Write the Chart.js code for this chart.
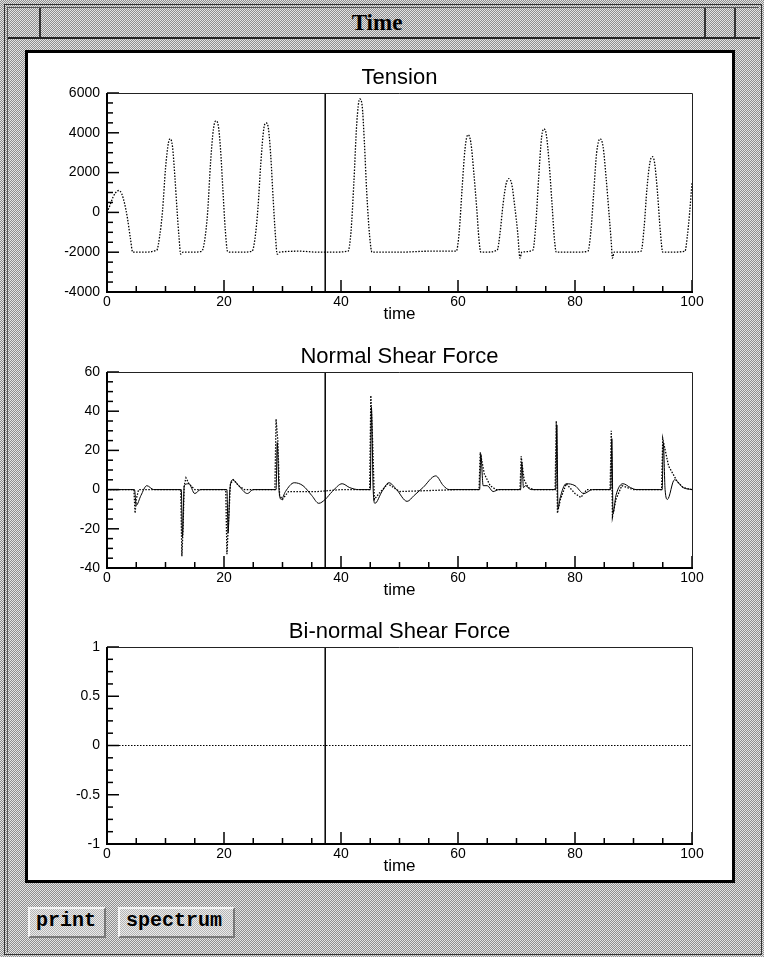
<!DOCTYPE html>
<html>
<head>
<meta charset="utf-8">
<title>Time</title>
<script src="https://cdn.jsdelivr.net/npm/chart.js@4.4.1/dist/chart.umd.min.js"></script>
<style>
  html, body { margin: 0; padding: 0; }
  body {
    width: 764px; height: 957px; position: relative; overflow: hidden;
    background: repeating-conic-gradient(#8e8e8e 0 25%, #e4e4e4 0 50%) 0 0 / 2px 2px;
    font-family: "Liberation Sans", Arial, sans-serif;
  }
  .abs { position: absolute; }
  #frame { left: 4px; top: 4px; right: 2px; bottom: 2px; border: 1px solid #333; }
  #frame2 { left: 7px; top: 7px; right: 5px; bottom: 5px; border-left: 1px solid #555; border-top: 1px solid #555; }
  #titlebar { left: 8px; top: 8px; right: 4px; height: 29px; border-bottom: 2px solid #222; }
  .sep { top: 0; width: 2px; height: 29px; background: #333; }
  #wintitle {
    left: 0; right: 0; top: 2px; height: 29px; line-height: 30px; text-align: center;
    font: bold 23px "Liberation Serif", "DejaVu Serif", serif; color: #000; padding-right: 14px;
  }
  #panel { left: 25px; top: 50px; width: 710px; height: 833px; box-sizing: border-box; border: 3px solid #000; background: #fff; }
  canvas { position: absolute; }
  .btn {
    top: 907px; height: 31px; box-sizing: border-box; line-height: 29px; padding: 0 6px;
    border-top: 2px solid #f4f4f4; border-left: 2px solid #f4f4f4; border-right: 2px solid #777; border-bottom: 2px solid #777;
    font: bold 20px "Liberation Mono", "DejaVu Sans Mono", monospace; color: #000;
    background: repeating-conic-gradient(#b4b4b4 0 25%, #ececec 0 50%) 0 0 / 2px 2px;
  }
</style>
</head>
<body>
<div id="frame" class="abs"></div>
<div id="frame2" class="abs"></div>
<div id="titlebar" class="abs">
  <div class="abs sep" style="left:31px"></div>
  <div class="abs sep" style="left:696px"></div>
  <div class="abs sep" style="left:726px"></div>
  <div id="wintitle" class="abs">Time</div>
</div>
<div id="panel" class="abs"></div>

<canvas id="tensionChart" width="704" height="266" style="left:28px;top:60px"></canvas>
<canvas id="normalChart" width="704" height="262" style="left:28px;top:340px"></canvas>
<canvas id="binormalChart" width="704" height="263" style="left:28px;top:615px"></canvas>

<div class="abs btn" style="left:28px;width:78px">print</div>
<div class="abs btn" style="left:118px;width:117px">spectrum</div>

<script>
// cursor position (time) shown as the vertical line in every panel
const CURSOR_T = 37.3;

// time axis
const X_MIN = 0, X_MAX = 100, X_STEP = 20, X_MINOR = 5;

// Tension
const tensionTime = [
  0, 0.5, 1, 1.5, 2, 2.5, 3, 3.5, 4, 4.4,
  6, 8.5, 9, 9.5, 10, 10.5, 10.8, 11.2, 11.6, 12, 12.3, 12.6, 13,
  14.5, 16.2, 16.7, 17.2, 17.7, 18.2, 18.6, 19, 19.4, 19.8, 20.2, 20.6, 21,
  23, 24.8, 25.3, 25.8, 26.3, 26.8, 27.2, 27.6, 28, 28.4, 28.8, 29.1, 29.5,
  33, 36, 38, 41.2, 41.7, 42.2, 42.7, 43.2, 43.6, 44, 44.4, 44.9, 45.3, 46,
  50, 55, 59.7, 60.2, 60.7, 61.2, 61.7, 62.2, 62.7, 63.2, 63.6, 63.9, 64.5,
  66.7, 67.2, 67.7, 68.2, 68.7, 69.2, 69.7, 70.2, 70.6, 70.9,
  72.8, 73.3, 73.8, 74.3, 74.7, 75.1, 75.6, 76.1, 76.5, 76.8, 77.5,
  80, 82.2, 82.7, 83.2, 83.7, 84.3, 84.8, 85.3, 85.8, 86.2, 86.4, 86.7,
  89, 91.3, 91.8, 92.3, 92.8, 93.2, 93.6, 94.1, 94.6, 95, 96,
  98.8, 99.2, 99.6, 100
];
const tensionValue = [
  0, 350, 750, 1000, 1100, 950, 450, -300, -1300, -2000,
  -2000, -1900, -1200, 100, 2200, 3500, 3700, 3300, 1800, 0, -1200, -2100, -2000,
  -2000, -1950, -1400, 0, 2500, 4200, 4600, 4400, 3200, 1200, -800, -1950, -2000,
  -2000, -1950, -1300, 200, 2500, 4200, 4500, 4200, 2800, 700, -1200, -2100, -2000,
  -1950, -2000, -2000, -1950, -1000, 1500, 4500, 5700, 5400, 3500, 1000, -1200, -2000, -2000,
  -2000, -1950, -1950, -1000, 1200, 3200, 3900, 3500, 2000, 200, -1400, -2000, -2000,
  -1900, -1000, 400, 1400, 1700, 1400, 300, -1000, -2300, -2000,
  -1900, -600, 1800, 3800, 4200, 3900, 2400, 300, -1400, -2000, -2000,
  -2000, -1950, -1000, 1000, 3000, 3700, 3300, 1800, 0, -1500, -2300, -2000,
  -2000, -1950, -800, 1200, 2500, 2800, 2500, 1000, -1000, -2000, -2000,
  -1950, -1200, 0, 1500
];
const tensionRange = [-4000, 6000], tensionStep = 2000, tensionMinor = 500;

// Normal shear force: dotted component
const shearSpikeTime = [
  0, 4.6, 4.8, 5.0, 5.4, 12.6, 12.8, 13.0, 13.2, 13.5, 14, 15,
  20.3, 20.5, 20.8, 21.1, 21.6, 22.5, 23.5, 28.7, 28.9, 29.2, 29.5, 30, 31, 36, 40,
  44.9, 45.1, 45.4, 45.7, 46.5, 48, 50, 60, 63.6, 63.8, 64.5, 65.5, 66.5,
  70.6, 70.8, 71.3, 72, 73, 76.6, 76.8, 77.0, 77.5, 78.5, 80, 81, 82,
  86, 86.2, 86.4, 87, 88, 90, 94.8, 95, 96, 97.5, 98.5, 100
];
const shearSpikeValue = [
  0, 0, -12, -5, 0, 0, -34, -20, 2, 6, 3, 0,
  0, -33, -15, 3, 5, 2, 0, 0, 36, 25, -3, -5, -1, -1, 0,
  0, 48, 25, -5, -2, 3, -1, 0, 0, 19, 8, 2, 0,
  0, 17, 5, 1, 0, 0, 35, -12, -5, 3, -2, -4, 0,
  0, 30, -14, -5, 2, 0, 0, 26, 12, 4, 1, 0
];
// Normal shear force: solid component
const shearWaveTime = [
  0, 4.7, 5, 5.8, 6.8, 8,
  12.7, 12.9, 13.2, 14, 15, 16,
  20.5, 20.7, 21, 21.5, 22.5, 24, 25,
  28.9, 29.1, 29.4, 29.8, 30.5, 32, 33.5, 35, 36.2, 37.3, 38.5, 40.2, 41.5, 43,
  45, 45.2, 45.5, 45.8, 47, 48.2, 49.5, 51.3, 52.5, 54, 56.2, 57.5, 58.5,
  63.7, 63.9, 64.3, 65, 66, 67,
  70.7, 70.9, 71.2, 71.5, 72.5,
  76.7, 76.9, 77.1, 77.4, 78.5, 80, 81.5, 83,
  86.1, 86.3, 86.5, 87, 88.2, 89.5, 90.5,
  94.9, 95.1, 95.4, 95.8, 97, 98.5, 100
];
const shearWaveValue = [
  0, 0, -8, -3, 2, 0,
  0, -24, 2, 3, -2, 0,
  0, -22, 0, 5, 2, -2, 0,
  0, 24, 0, -5, -1, 3.5, 2, -3, -7, -5, -1, 3, 1, 0,
  0, 42, 0, -7, -1, 3.5, 0, -6, -3, 1, 7, 2, 0,
  0, 18, 2, 2, -1, 0,
  0, 14, 1, 2, 0,
  0, 33, -10, -5, 3, 2, -2, 0,
  0, 26, -12, -3, 3, 1, 0,
  0, 24, 0, -5, 5, 1, 0
];
const shearRange = [-40, 60], shearStep = 20, shearMinor = 5;

// Bi-normal shear force: flat at zero
const binormalTime = [0, 100];
const binormalValue = [0, 0];
const binormalRange = [-1, 1], binormalStep = 0.5, binormalMinor = 0.125;

const FONT = '"Liberation Sans", Arial, Helvetica, sans-serif';
Chart.defaults.font.family = FONT;
Chart.defaults.font.size = 14;
Chart.defaults.color = '#000';

function zip(ts, vs) {
  return ts.map((t, i) => ({ x: t, y: vs[i] }));
}

// ticks drawn inward from the left and bottom axes, plus the frame
const insideTicks = {
  id: 'insideTicks',
  afterDatasetsDraw(chart, args, opts) {
    const { ctx, chartArea: a, scales: { x, y } } = chart;
    const isMajor = (v, step) => Math.abs(v / step - Math.round(v / step)) < 1e-6;
    ctx.save();
    ctx.strokeStyle = '#000';
    ctx.lineWidth = 1.5;
    for (let v = x.min; v <= x.max + 1e-9; v += opts.xMinor) {
      const px = x.getPixelForValue(v);
      const len = isMajor(v, x.options.ticks.stepSize) ? 12 : 6;
      ctx.beginPath(); ctx.moveTo(px, a.bottom); ctx.lineTo(px, a.bottom - len); ctx.stroke();
    }
    for (let v = y.min; v <= y.max + 1e-9; v += opts.yMinor) {
      const py = y.getPixelForValue(v);
      const len = isMajor(v, y.options.ticks.stepSize) ? 12 : 6;
      ctx.beginPath(); ctx.moveTo(a.left, py); ctx.lineTo(a.left + len, py); ctx.stroke();
    }
    // thin top/right edges, heavy left/bottom axes
    ctx.lineWidth = 1;
    ctx.strokeStyle = '#222';
    ctx.beginPath();
    ctx.moveTo(a.left, a.top + 0.5); ctx.lineTo(a.right + 0.5, a.top + 0.5); ctx.lineTo(a.right + 0.5, a.bottom);
    ctx.stroke();
    ctx.lineWidth = 2;
    ctx.strokeStyle = '#000';
    ctx.beginPath();
    ctx.moveTo(a.left, a.top); ctx.lineTo(a.left, a.bottom); ctx.lineTo(a.right + 1, a.bottom);
    ctx.stroke();
    ctx.restore();
  }
};

function cursorSet(range) {
  return {
    data: [{ x: CURSOR_T, y: range[0] }, { x: CURSOR_T, y: range[1] }],
    borderColor: '#000', borderWidth: 1.5, pointRadius: 0
  };
}

// the panel title rides on an empty top axis so it is centred over the plot
function makePanel(id, title, datasets, range, step, minor, padTop) {
  return new Chart(document.getElementById(id), {
    type: 'line',
    data: { datasets: [...datasets, cursorSet(range)].map(d => ({ ...d, xAxisID: 'x', yAxisID: 'y' })) },
    options: {
      responsive: false,
      animation: false,
      events: [],
      layout: { padding: { top: padTop, right: 40, bottom: 3, left: 0 } },
      plugins: {
        legend: { display: false },
        tooltip: { enabled: false },
        insideTicks: { xMinor: X_MINOR, yMinor: minor }
      },
      scales: {
        x: {
          type: 'linear', position: 'bottom', min: X_MIN, max: X_MAX,
          border: { display: false },
          grid: { display: false, drawTicks: false },
          ticks: { stepSize: X_STEP, padding: 2, maxRotation: 0, autoSkip: false, callback: v => String(v) },
          title: { display: true, text: 'time', color: '#000', font: { size: 17, lineHeight: 1 }, padding: 0 },
          afterFit(s) { s.height = 31; }
        },
        top: {
          type: 'linear', axis: 'x', position: 'top', min: X_MIN, max: X_MAX,
          border: { display: false },
          grid: { display: false, drawTicks: false },
          ticks: { display: false },
          title: { display: true, text: title, color: '#000', font: { size: 22, lineHeight: 1 }, padding: 0 },
          afterFit(s) { s.height = 26; }
        },
        y: {
          type: 'linear', min: range[0], max: range[1],
          border: { display: false },
          grid: { display: false, drawTicks: false },
          ticks: { stepSize: step, padding: 7, autoSkip: false, callback: v => String(v) },
          afterFit(s) { s.width = 79; }
        }
      }
    },
    plugins: [insideTicks]
  });
}

makePanel('tensionChart', 'Tension', [{
  data: zip(tensionTime, tensionValue),
  borderColor: '#000', borderWidth: 1.3, borderDash: [1.5, 1.5],
  pointRadius: 0, cubicInterpolationMode: 'monotone'
}], tensionRange, tensionStep, tensionMinor, 7);

makePanel('normalChart', 'Normal Shear Force', [{
  data: zip(shearSpikeTime, shearSpikeValue),
  borderColor: '#000', borderWidth: 1.3, borderDash: [1.5, 1.5],
  pointRadius: 0, tension: 0
}, {
  data: zip(shearWaveTime, shearWaveValue),
  borderColor: '#000', borderWidth: 1, pointRadius: 0,
  cubicInterpolationMode: 'monotone'
}], shearRange, shearStep, shearMinor, 6);

makePanel('binormalChart', 'Bi-normal Shear Force', [{
  data: zip(binormalTime, binormalValue),
  borderColor: '#000', borderWidth: 1, borderDash: [1.5, 1.5], pointRadius: 0
}], binormalRange, binormalStep, binormalMinor, 6);
</script>
</body>
</html>
